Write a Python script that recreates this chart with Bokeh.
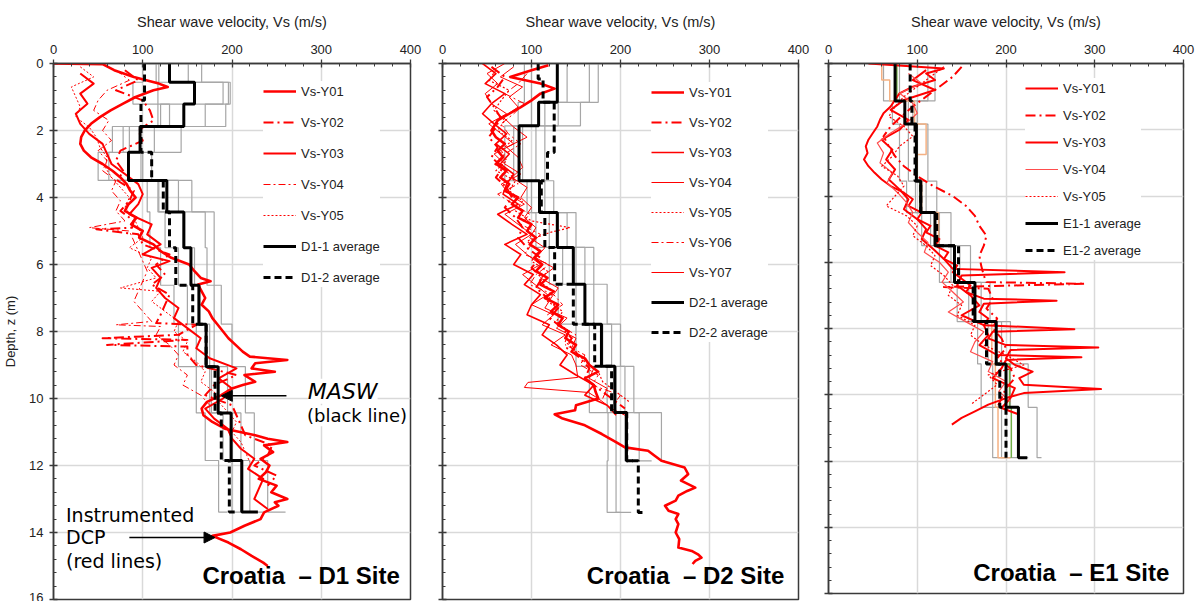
from bokeh.plotting import figure
from bokeh.models import (Range1d, FixedTicker, Legend, LegendItem, Label, Arrow, NormalHead,
                          CustomJSTickFormatter)
from bokeh.layouts import row
from bokeh.embed import file_html
from bokeh.resources import INLINE

# ======================= DATA =======================
x_ticks = [0, 100, 200, 300, 400]
z_ticks = [0, 2, 4, 6, 8, 10, 12, 14, 16]

# ---------- Croatia D1 site : instrumented DCP profiles ----------
d1_y01_z = [0, 0.02, 0.2, 0.4, 0.6, 0.7, 0.8, 1.0, 1.2, 1.4,
            1.6, 1.8, 2.0, 2.2, 2.4, 2.6, 2.8, 3.0, 3.2, 3.4,
            3.6, 3.8, 4.0, 4.2, 4.4, 4.6, 4.8, 5.0, 5.2, 5.4,
            5.6, 5.8, 6.0, 6.2, 6.4, 6.5, 6.6, 6.8, 7.0, 7.2,
            7.4, 7.6, 7.8, 8.0, 8.2, 8.4, 8.6, 8.75, 8.85, 8.95,
            9.1, 9.2, 9.3, 9.5, 9.6, 9.7, 9.9, 10.1, 10.3, 10.5,
            10.7, 10.9, 11.1, 11.2, 11.3, 11.4, 11.6, 11.8, 12.0, 12.2,
            12.4, 12.6, 12.8, 13.0, 13.1, 13.2, 13.4, 13.6, 13.8, 14.0,
            14.1, 14.3, 14.5, 14.7, 14.9, 15.0]
d1_y01_v = [0, 55, 68, 90, 118, 128, 112, 92, 78, 64,
            52, 42, 35, 31, 30, 34, 42, 55, 66, 75,
            82, 86, 92, 84, 80, 93, 87, 100, 96, 112,
            120, 132, 152, 158, 165, 176, 162, 166, 170, 166,
            174, 178, 184, 190, 196, 204, 212, 220, 262, 226,
            222, 248, 214, 226, 212, 200, 188, 172, 166, 168,
            178, 192, 226, 240, 262, 236, 246, 232, 242, 238,
            230, 250, 244, 262, 248, 252, 236, 232, 214, 198,
            178, 196, 210, 222, 235, 240]
d1_y02_z = [0.2, 0.5, 0.8, 1.1, 1.4, 1.7, 2.0, 2.3, 2.6, 2.9, 3.2, 3.5, 3.8, 4.1, 4.4, 4.7,
            4.9, 4.95, 5.1, 5.4, 5.7, 6.0, 6.3, 6.6, 6.9, 7.2, 7.5, 7.75, 7.8, 8.1, 8.2, 8.25, 8.4, 8.45, 8.7, 9.0,
            9.3, 9.6, 9.9, 10.2, 10.5, 10.8, 11.1, 11.4, 11.7, 12.0, 12.3, 12.6]
d1_y02_v = [80, 95, 70, 100, 108, 112, 95, 100, 75, 70, 78, 72, 90, 85, 75, 90,
            88, 48, 95, 100, 130, 115, 125, 110, 130, 125, 120, 115, 160, 140, 55, 150, 60, 150, 150, 160,
            205, 180, 170, 200, 205, 210, 215, 245, 240, 225, 250, 240]
d1_y03_z = [0.3, 0.6, 0.9, 1.2, 1.5, 1.8, 2.1, 2.4, 2.7, 3.0,
            3.3, 3.6, 3.9, 4.2, 4.5, 4.8, 5.1, 5.4, 5.7, 5.9,
            6.1, 6.4, 6.7, 7.0, 7.3, 7.6, 7.9, 8.2, 8.5, 8.8,
            9.1, 9.4, 9.7, 10.0, 10.3, 10.6, 10.9, 11.2, 11.5, 11.8,
            12.1, 12.4, 12.7, 13.0, 13.3]
d1_y03_v = [30, 45, 30, 38, 25, 30, 40, 55, 60, 65,
            80, 95, 100, 95, 85, 110, 105, 120, 100, 130,
            110, 120, 115, 125, 140, 135, 150, 165, 160, 175,
            205, 185, 200, 190, 170, 180, 195, 200, 210, 225,
            218, 235, 230, 225, 240]
d1_y04_z = [0.2, 0.5, 0.8, 1.1, 1.4, 1.7, 2.0, 2.3, 2.6, 2.9,
            3.2, 3.5, 3.8, 4.1, 4.4, 4.7, 4.9, 5.0, 5.3, 5.6,
            5.9, 6.2, 6.5, 6.8, 7.1, 7.4, 7.7, 7.8, 7.85, 8.1,
            8.4, 8.7, 9.0, 9.3, 9.6, 9.9, 10.2]
d1_y04_v = [70, 85, 60, 50, 45, 62, 55, 65, 50, 60,
            55, 70, 65, 75, 70, 80, 40, 85, 90, 95,
            100, 105, 100, 95, 90, 100, 110, 70, 120, 115,
            130, 140, 135, 150, 145, 165, 175]
d1_y05_z = [0.1, 0.4, 0.7, 1.0, 1.3, 1.6, 1.9, 2.2, 2.5, 2.8,
            3.1, 3.4, 3.7, 4.0, 4.3, 4.6, 4.9, 5.2, 5.5, 5.8,
            6.1, 6.4, 6.7, 6.8, 7.1, 7.4, 7.7, 8.0, 8.3, 8.6,
            8.9, 9.2, 9.5, 9.8, 10.1, 10.4, 10.7, 11.0, 11.3, 11.6, 11.9]
d1_y05_v = [30, 45, 20, 25, 30, 25, 40, 48, 52, 60,
            58, 65, 75, 85, 80, 90, 95, 100, 85, 110,
            105, 115, 75, 120, 110, 125, 140, 135, 150, 145,
            160, 170, 165, 180, 185, 195, 205, 200, 210, 215, 220]

# ---------- D1 site : MASW layered profiles ----------
d1_layers = [0, 0.56, 1.21, 1.88, 2.65, 3.49, 4.43, 5.5, 6.62, 7.78, 9.05, 10.43, 11.85, 13.39]
d1_masw_1 = [100, 89, 117, 66, 50, 105, 108, 120, 135, 140, 160, 170, 185]
d1_masw_2 = [118, 117, 130, 85, 62, 118, 125, 140, 150, 160, 175, 190, 200]
d1_masw_3 = [151, 190, 170, 143, 100, 155, 170, 172, 180, 180, 195, 210, 220]
d1_masw_4 = [166, 196, 193, 113, 110, 140, 180, 180, 188, 200, 215, 225, 240]
d1_masw_5 = [115, 198, 120, 78, 98, 117, 147, 158, 162, 175, 177, 200, 210]
d1_masw_half = [195, 215, 235, 260, 225]
d1_1_avg = [130, 158, 146, 97, 84, 127, 146, 154, 163, 171, 184.5, 199, 211]
d1_1_half = 229
d1_2_layers = [0, 1.1, 2.65, 3.49, 4.43, 5.5, 6.62, 7.78, 9.05, 10.43, 11.85, 13.39]
d1_2_avg = [102, 98, 110, 123, 130, 137, 156, 171, 181, 188, 197]
d1_2_half = 203

# ---------- Croatia D2 site : instrumented DCP profiles ----------
d2_y01_z = [0.05, 0.2, 0.4, 0.6, 0.75, 0.9, 1.1, 1.3, 1.5, 1.7,
            2.0, 2.2, 2.4, 2.6, 2.8, 3.0, 3.2, 3.4, 3.6, 3.8,
            4.0, 4.2, 4.4, 4.6, 4.8, 5.0, 5.2, 5.4, 5.6, 5.8,
            6.0, 6.2, 6.4, 6.6, 6.8, 7.0, 7.2, 7.4, 7.6, 7.8,
            8.0, 8.2, 8.4, 8.6, 8.8, 9.0, 9.2, 9.4, 9.6, 9.8,
            10.0, 10.2, 10.35, 10.47, 10.6, 10.8, 11.06, 11.3, 11.46, 11.56,
            11.7, 11.86, 12.06, 12.26, 12.45, 12.66, 12.76, 12.9, 13.05, 13.2,
            13.35, 13.45, 13.6, 13.75, 14.0, 14.2, 14.45, 14.55, 14.65, 14.75,
            14.85, 14.94]
d2_y01_v = [119, 100, 76, 110, 126, 110, 100, 88, 75, 62,
            55, 60, 70, 62, 68, 60, 72, 65, 75, 70,
            85, 78, 90, 85, 100, 95, 105, 98, 110, 103,
            112, 105, 118, 110, 125, 115, 130, 122, 135, 130,
            142, 138, 150, 145, 160, 165, 175, 160, 170, 172,
            175, 150, 149, 126, 135, 160, 179, 195, 205, 231,
            238, 246, 272, 276, 268, 284, 275, 265, 262, 250,
            254, 265, 262, 265, 262, 266, 265, 280, 287, 291,
            284, 281]
d2_y02_z = [0.1, 0.4, 0.7, 1.0, 1.3, 1.6, 1.9, 2.2, 2.5, 2.8,
            3.1, 3.4, 3.7, 4.0, 4.3, 4.6, 4.9, 5.2, 5.5, 5.8,
            6.1, 6.4, 6.7, 7.0, 7.3, 7.6, 7.9, 8.2, 8.5, 8.8,
            9.1, 9.4, 9.7, 10.0, 10.3]
d2_y02_v = [55, 70, 62, 50, 58, 65, 60, 52, 62, 55,
            68, 60, 72, 78, 70, 82, 90, 85, 95, 110,
            100, 112, 105, 118, 130, 120, 135, 145, 140, 155,
            165, 160, 175, 190, 205]
d2_y03_z = [0.0, 0.3, 0.6, 0.9, 1.2, 1.5, 1.8, 2.1, 2.4, 2.7,
            3.0, 3.3, 3.6, 3.9, 4.2, 4.5, 4.8, 5.1, 5.4, 5.7,
            6.0, 6.3, 6.6, 6.9, 7.2, 7.5, 7.8, 8.1, 8.4, 8.7,
            9.0, 9.3, 9.6, 9.9, 10.2, 10.5]
d2_y03_v = [45, 60, 48, 70, 55, 45, 58, 72, 60, 75,
            65, 80, 72, 68, 85, 62, 78, 95, 70, 88,
            80, 102, 92, 110, 100, 95, 120, 112, 128, 140,
            132, 150, 170, 160, 185, 195]
d2_y04_z = [0.1, 0.4, 0.7, 1.0, 1.3, 1.6, 1.9, 2.2, 2.5, 2.8,
            3.1, 3.4, 3.7, 4.0, 4.3, 4.6, 4.9, 5.2, 5.5, 5.8,
            6.1, 6.4, 6.7, 7.0, 7.3, 7.6, 7.9, 8.2, 8.5, 8.8,
            9.1, 9.4, 9.7, 10.0]
d2_y04_v = [80, 65, 90, 75, 85, 68, 80, 95, 72, 85,
            90, 78, 95, 88, 100, 92, 105, 98, 115, 105,
            125, 110, 130, 122, 115, 140, 128, 150, 145, 158,
            170, 165, 185, 180]
d2_y05_z = [0.2, 0.5, 0.8, 1.1, 1.4, 1.7, 2.0, 2.3, 2.6, 2.9,
            3.2, 3.5, 3.8, 4.1, 4.4, 4.7, 4.9, 5.05, 5.3, 5.6,
            5.9, 6.2, 6.5, 6.8, 7.1, 7.4, 7.7, 8.0, 8.3, 8.6,
            8.9, 9.2, 9.5, 9.8, 10.1]
d2_y05_v = [60, 52, 75, 66, 58, 70, 62, 78, 66, 72,
            60, 82, 75, 90, 82, 100, 143, 120, 95, 108,
            100, 118, 108, 125, 118, 135, 128, 142, 138, 150,
            160, 175, 180, 195, 210]
d2_y06_z = [0.3, 0.6, 0.9, 1.2, 1.5, 1.8, 2.1, 2.4, 2.7, 3.0,
            3.3, 3.6, 3.9, 4.2, 4.5, 4.8, 5.1, 5.4, 5.7, 6.0,
            6.3, 6.6, 6.9, 7.2, 7.5, 7.8, 8.1, 8.4, 8.7, 9.0,
            9.3, 9.6, 9.9, 10.2]
d2_y06_v = [95, 85, 70, 92, 80, 66, 74, 88, 70, 58,
            76, 85, 62, 80, 98, 88, 110, 100, 92, 120,
            105, 98, 125, 135, 118, 130, 150, 138, 160, 155,
            175, 168, 200, 192]
d2_y07_z = [0.0, 0.3, 0.6, 0.9, 1.2, 1.5, 1.8, 2.1, 2.4, 2.7,
            3.0, 3.3, 3.6, 3.9, 4.2, 4.5, 4.8, 5.1, 5.4, 5.7,
            6.0, 6.3, 6.6, 6.9, 7.2, 7.5, 7.8, 8.1, 8.4, 8.7,
            9.0, 9.37, 9.52, 9.67, 9.82, 10.0, 10.3, 10.5]
d2_y07_v = [70, 50, 62, 48, 55, 72, 52, 66, 80, 58,
            70, 88, 66, 75, 92, 70, 85, 100, 82, 95,
            110, 90, 104, 118, 100, 125, 112, 138, 122, 145,
            150, 152, 96, 92, 164, 175, 190, 205]

# ---------- D2 site : MASW layered profiles ----------
d2_layers = [0, 1.16, 1.86, 3.5, 4.45, 5.49, 6.59, 7.78, 9.04, 10.42, 11.86, 13.4]
d2_masw_1 = [92, 85, 70, 95, 105, 120, 130, 150, 165, 186, 185]
d2_masw_2 = [100, 100, 80, 100, 120, 135, 150, 165, 185, 195, 195]
d2_masw_3 = [140, 115, 90, 110, 130, 150, 160, 180, 195, 205]
d2_masw_4 = [165, 130, 105, 115, 140, 160, 170, 190, 205, 221]
d2_masw_5 = [175, 155, 115, 125, 150, 170, 185, 200, 215, 246]
d2_masw_half = [200, 212, 221, 235, 250]
d2_1_avg = [129, 108, 86, 109, 129, 147, 160, 178.6, 193.6, 206.7]
d2_1_half = 214
d2_2_layers = [0, 0.46, 1.16, 2.66, 3.5, 4.45, 5.49, 6.59, 7.78, 9.04, 10.42, 11.86, 13.4]
d2_2_avg = [107.5, 113, 125.5, 118, 111, 115, 126, 147, 171, 190, 207, 220]
d2_2_half = 229

# ---------- Croatia E1 site : instrumented DCP profiles ----------
e1_y01_z = [0.0, 0.15, 0.3, 0.5, 0.7, 0.9, 1.1, 1.3, 1.5, 1.7,
            1.9, 2.1, 2.3, 2.5, 2.7, 2.9, 3.1, 3.3, 3.5, 3.7,
            3.9, 4.1, 4.3, 4.5, 4.7, 4.9, 5.1, 5.3, 5.5, 5.7,
            5.9, 6.1, 6.3, 6.5, 6.7, 6.9, 7.1, 7.16, 7.25, 7.5,
            7.7, 7.9, 8.02, 8.1, 8.3, 8.5, 8.57, 8.65, 8.9, 9.1,
            9.3, 9.5, 9.7, 9.83, 9.95, 10.1, 10.3, 10.5, 10.7, 10.9]
e1_y01_v = [45, 130, 110, 120, 95, 80, 75, 70, 62, 58,
            55, 50, 45, 42, 44, 40, 45, 52, 60, 70,
            85, 95, 90, 105, 100, 115, 110, 125, 120, 135,
            130, 145, 140, 150, 160, 155, 175, 257, 175, 170,
            180, 175, 277, 185, 180, 200, 304, 205, 200, 210,
            230, 215, 220, 307, 220, 200, 180, 165, 150, 139]
e1_y02_z = [0.1, 0.4, 0.7, 1.0, 1.3, 1.6, 1.9, 2.2, 2.5, 2.8,
            3.1, 3.4, 3.7, 4.0, 4.3, 4.6, 4.9, 5.2, 5.5, 5.8,
            6.1, 6.4, 6.6, 6.65, 6.75, 6.8, 7.1, 7.4, 7.7, 8.0,
            8.3, 8.6, 8.9, 9.2, 9.5, 9.8, 10.1, 10.4]
e1_y02_v = [150, 140, 125, 110, 95, 82, 70, 62, 68, 75,
            85, 100, 118, 140, 155, 165, 170, 178, 175, 170,
            172, 175, 178, 289, 130, 180, 185, 178, 190, 185,
            195, 200, 190, 205, 210, 200, 195, 190]
e1_y03_z = [0.2, 0.5, 0.8, 1.1, 1.4, 1.7, 2.0, 2.3, 2.6, 2.9,
            3.2, 3.5, 3.8, 4.1, 4.4, 4.7, 5.0, 5.3, 5.6, 5.9,
            6.2, 6.3, 6.4, 6.7, 7.0, 7.3, 7.6, 7.9, 8.2, 8.5,
            8.8, 8.87, 8.95, 9.2, 9.5, 9.8, 10.1, 10.4, 10.6]
e1_y03_v = [110, 95, 120, 85, 70, 90, 80, 60, 72, 65,
            75, 68, 80, 90, 85, 100, 110, 105, 118, 130,
            140, 266, 150, 145, 160, 170, 150, 175, 180, 170,
            190, 285, 200, 195, 185, 210, 205, 195, 215]
e1_y04_z = [0.3, 0.6, 0.9, 1.2, 1.5, 1.8, 2.1, 2.4, 2.7, 3.0,
            3.3, 3.6, 3.9, 4.2, 4.5, 4.8, 5.1, 5.4, 5.7, 6.0,
            6.3, 6.6, 6.9, 7.2, 7.5, 7.8, 8.1, 8.4, 8.7, 9.0,
            9.3, 9.6, 9.9, 10.2]
e1_y04_v = [90, 105, 80, 95, 100, 88, 70, 55, 62, 58,
            72, 66, 78, 88, 95, 90, 100, 112, 108, 125,
            135, 128, 140, 152, 135, 155, 175, 165, 160, 185,
            180, 200, 192, 205]
e1_y05_z = [0.1, 0.4, 0.7, 1.0, 1.3, 1.6, 1.9, 2.2, 2.5, 2.8,
            3.1, 3.4, 3.7, 4.0, 4.3, 4.6, 4.9, 5.2, 5.5, 5.8,
            6.1, 6.4, 6.7, 7.0, 7.3, 7.6, 7.9, 8.2, 8.5, 8.8,
            9.1, 9.4, 9.7, 10.0, 10.3]
e1_y05_v = [130, 115, 100, 85, 75, 68, 85, 95, 80, 72,
            60, 78, 85, 75, 65, 88, 100, 95, 110, 120,
            115, 130, 140, 135, 150, 145, 165, 160, 175, 200,
            220, 180, 190, 175, 160]

# ---------- E1 site : MASW layered profiles ----------
e1_layers = [0, 1.13, 1.83, 3.55, 4.5, 5.5, 6.61, 7.79, 9.07, 10.38, 11.9]
e1_masw_1 = [62, 72, 80, 88, 105, 125, 145, 168, 172, 185]
e1_masw_2 = [80, 90, 90, 98, 115, 138, 158, 180, 185, 195]
e1_masw_3 = [112, 95, 100, 110, 125, 148, 172, 195, 205, 215]
e1_masw_4 = [120, 100, 112, 122, 138, 160, 182, 205, 225, 235]
e1_masw_half = [200, 215, 225, 240]
e1_orange_layers = [0, 0.5, 1.13, 1.83, 2.75, 3.55, 4.5, 5.5, 6.61, 7.79, 9.07, 10.38, 11.9]
e1_orange = [60, 69, 97, 110, 100, 105, 124, 142, 165, 184, 188, 191]
e1_orange_half = 205
e1_green = [77, 86, 99, 103, 120, 142, 165, 189, 204, 206]
e1_1_avg = [75, 86, 99, 104, 120, 142, 165, 189, 200, 214]
e1_1_half = 224
e1_2_avg = [92, 94, 97.5, 104, 122, 146.5, 163, 178, 193, 200]

# ======================= STYLE / DRAW =======================
FONT = "Liberation Sans"
RED = "#ff0000"
AX = "#3a3a3a"


def steps(bounds, vals, half=None):
    xs, ys = [], []
    for i, v in enumerate(vals):
        xs += [v, v]
        ys += [bounds[i], bounds[i + 1]]
    if half is not None:
        xs.append(half)
        ys.append(bounds[len(vals)])
    return xs, ys


def make_fig(fw, fh, left, right, bottom, ylabels):
    p = figure(frame_width=fw, frame_height=fh,
               x_range=Range1d(0, 400), y_range=Range1d(16, 0),
               x_axis_location="above", output_backend="svg", toolbar_location=None,
               min_border_left=left, min_border_right=right,
               min_border_top=63, min_border_bottom=bottom)
    p.background_fill_color = "white"
    p.border_fill_color = "white"
    p.outline_line_color = AX
    p.outline_line_width = 1.5
    xa = p.xaxis[0]
    xa.ticker = FixedTicker(ticks=x_ticks, minor_ticks=list(range(0, 401, 20)))
    xa.axis_label = "Shear wave velocity, Vs (m/s)"
    xa.axis_label_text_font = FONT
    xa.axis_label_text_font_style = "normal"
    xa.axis_label_text_font_size = "14.5px"
    xa.axis_label_text_color = "#222222"
    xa.axis_label_standoff = 12
    xa.major_label_text_font = FONT
    xa.major_label_text_font_size = "13px"
    xa.major_label_text_color = "#222222"
    xa.major_label_standoff = 6
    ya = p.yaxis[0]
    ya.ticker = FixedTicker(ticks=z_ticks, minor_ticks=[round(0.4 * i, 1) for i in range(41)])
    for a in (xa, ya):
        a.axis_line_color = AX
        a.axis_line_width = 1.5
        a.major_tick_line_color = AX
        a.minor_tick_line_color = AX
        a.major_tick_in = 4
        a.major_tick_out = 4
        a.minor_tick_in = 3
        a.minor_tick_out = 0
        a.major_tick_line_width = 1.3
    if ylabels:
        ya.axis_label = "Depth, z (m)"
        ya.axis_label_text_font = FONT
        ya.axis_label_text_font_style = "normal"
        ya.axis_label_text_font_size = "13px"
        ya.axis_label_text_color = "#222222"
        ya.axis_label_standoff = 8
        ya.major_label_text_font = FONT
        ya.major_label_text_font_size = "13px"
        ya.major_label_text_color = "#222222"
        ya.major_label_standoff = 6
    else:
        ya.formatter = CustomJSTickFormatter(code="return '';")
        ya.major_label_standoff = 0
    p.xgrid.ticker = FixedTicker(ticks=[100, 200, 300])
    p.ygrid.ticker = FixedTicker(ticks=[2, 4, 6, 8, 10, 12, 14])
    for g in (p.xgrid[0], p.ygrid[0]):
        g.grid_line_color = "#d9d9d9"
        g.grid_line_width = 1.5
    return p


def red(p, z, v, width, dash="solid", color=RED):
    n = min(len(z), len(v))
    return p.line(v[:n], z[:n], line_color=color, line_width=width,
                  line_dash=dash, line_join="round")


def gray(p, bounds, vals, half=None, color="#a6a6a6", width=1.2):
    xs, ys = steps(bounds, vals, half)
    return p.line(xs, ys, line_color=color, line_width=width)


def avg(p, bounds, vals, half=None, dash="solid"):
    xs, ys = steps(bounds, vals, half)
    return p.line(xs, ys, line_color="black", line_width=3, line_dash=dash)


def legend(p, items, loc, spacing):
    lg = Legend(items=[LegendItem(label=l, renderers=[r]) for l, r in items],
                location=loc, glyph_width=33, glyph_height=20, label_height=20,
                spacing=spacing, padding=6, margin=0, label_standoff=5,
                label_text_font=FONT, label_text_font_size="13px",
                label_text_color="#222222",
                border_line_color=None, background_fill_color="white",
                background_fill_alpha=1)
    p.add_layout(lg)


DASHDOT = "10 4 2 4"
DASHDOT_T = "7 3 2 3"
DOT = "2 2"
ANN = "DejaVu Sans"

# ---------- Panel 1 : D1 ----------
p1 = make_fig(357, 536, 52, 16, 2, True)
for g, h in zip([d1_masw_1, d1_masw_2, d1_masw_3, d1_masw_4, d1_masw_5], d1_masw_half):
    gray(p1, d1_layers, g, h)
r1 = red(p1, d1_y01_z, d1_y01_v, 2.6)
r2 = red(p1, d1_y02_z, d1_y02_v, 2.0, DASHDOT)
r3 = red(p1, d1_y03_z, d1_y03_v, 2.0)
r4 = red(p1, d1_y04_z, d1_y04_v, 1.0, DASHDOT_T)
r5 = red(p1, d1_y05_z, d1_y05_v, 1.0, DOT)
a1 = avg(p1, d1_layers, d1_1_avg, d1_1_half)
a2 = avg(p1, d1_2_layers, d1_2_avg, d1_2_half, "7 4")
legend(p1, [("Vs-Y01", r1), ("Vs-Y02", r2), ("Vs-Y03", r3), ("Vs-Y04", r4),
            ("Vs-Y05", r5), ("D1-1 average", a1), ("D1-2 average", a2)], (210, 312), 11)

p1.add_layout(Label(x=285, y=10.16, text="MASW", text_font=ANN, text_font_size="22px",
                    text_font_style="italic", text_color="black",
                    background_fill_color="white"))
p1.add_layout(Label(x=284, y=10.83, text="(black line)", text_font=ANN, text_font_size="18px",
                    text_color="black", background_fill_color="white"))
p1.add_layout(Arrow(end=NormalHead(size=11, fill_color="black", line_color="black"),
                    x_start=261, y_start=9.92, x_end=188, y_end=9.92,
                    line_color="black", line_width=1.5))
p1.add_layout(Label(x=14, y=13.8, text="Instrumented", text_font=ANN, text_font_size="19px",
                    text_color="black"))
p1.add_layout(Label(x=14, y=14.45, text="DCP", text_font=ANN, text_font_size="19px",
                    text_color="black"))
p1.add_layout(Label(x=14, y=15.19, text="(red lines)", text_font=ANN, text_font_size="19px",
                    text_color="black"))
p1.add_layout(Arrow(end=NormalHead(size=11, fill_color="black", line_color="black"),
                    x_start=85, y_start=14.15, x_end=181, y_end=14.15,
                    line_color="black", line_width=1.5))
p1.add_layout(Label(x=388, y=15.68, text="Croatia\u00a0\u00a0\u2013 D1 Site", text_font=FONT,
                    text_font_size="24px", text_font_style="bold", text_align="right",
                    text_color="black"))

# ---------- Panel 2 : D2 ----------
p2 = make_fig(356, 536, 16, 15, 2, False)
for g, h in zip([d2_masw_1, d2_masw_2, d2_masw_3, d2_masw_4, d2_masw_5], d2_masw_half):
    gray(p2, d2_layers, g, h)
q1 = red(p2, d2_y01_z, d2_y01_v, 2.6)
q2 = red(p2, d2_y02_z, d2_y02_v, 2.0, DASHDOT)
q3 = red(p2, d2_y03_z, d2_y03_v, 1.6)
q4 = red(p2, d2_y04_z, d2_y04_v, 1.0)
q5 = red(p2, d2_y05_z, d2_y05_v, 1.2, DOT)
q6 = red(p2, d2_y06_z, d2_y06_v, 1.0, DASHDOT_T)
q7 = red(p2, d2_y07_z, d2_y07_v, 1.0)
b1 = avg(p2, d2_layers[:11], d2_1_avg, d2_1_half)
b2 = avg(p2, d2_2_layers, d2_2_avg, d2_2_half, "7 4")
legend(p2, [("Vs-Y01", q1), ("Vs-Y02", q2), ("Vs-Y03", q3), ("Vs-Y04", q4),
            ("Vs-Y05", q5), ("Vs-Y06", q6), ("Vs-Y07", q7),
            ("D2-1 average", b1), ("D2-2 average", b2)], (209, 257), 10)
p2.add_layout(Label(x=384, y=15.68, text="Croatia\u00a0\u00a0\u2013 D2 Site", text_font=FONT,
                    text_font_size="24px", text_font_style="bold", text_align="right",
                    text_color="black"))

# ---------- Panel 3 : E1 ----------
p3 = make_fig(355, 530, 15, 14, 8, False)
for g, h in zip([e1_masw_1, e1_masw_2, e1_masw_3, e1_masw_4], e1_masw_half):
    gray(p3, e1_layers, g, h)
gray(p3, e1_orange_layers, e1_orange, e1_orange_half, color="#f4b183", width=1.5)
gray(p3, e1_layers, e1_green, None, color="#70ad47", width=1.5)
s1 = red(p3, e1_y01_z, e1_y01_v, 2.0)
s2 = red(p3, e1_y02_z, e1_y02_v, 2.0, DASHDOT)
s3 = red(p3, e1_y03_z, e1_y03_v, 2.0)
s4 = red(p3, e1_y04_z, e1_y04_v, 1.2, color="#ff4d4d")
s5 = red(p3, e1_y05_z, e1_y05_v, 1.2, DOT)
c1 = avg(p3, e1_layers, e1_1_avg, e1_1_half)
c2 = avg(p3, e1_layers, e1_2_avg, None, "7 4")
legend(p3, [("Vs-Y01", s1), ("Vs-Y02", s2), ("Vs-Y03", s3), ("Vs-Y04", s4),
            ("Vs-Y05", s5), ("E1-1 average", c1), ("E1-2 average", c2)], (197, 333), 7)
p3.add_layout(Label(x=384, y=15.77, text="Croatia\u00a0\u00a0\u2013 E1 Site", text_font=FONT,
                    text_font_size="24px", text_font_style="bold", text_align="right",
                    text_color="black"))

layout = row(p1, p2, p3)
open("out.html", "w").write(file_html(layout, INLINE))
